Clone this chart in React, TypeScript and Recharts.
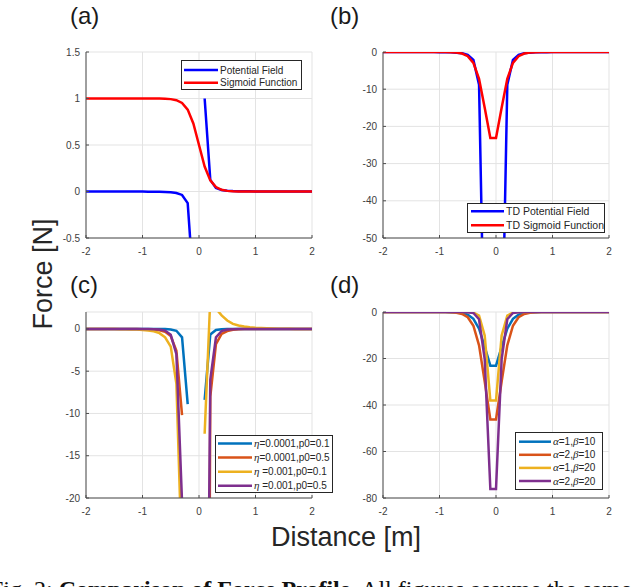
import { LineChart, Line, XAxis, YAxis, CartesianGrid, Legend } from 'recharts';

const SANS = '"Liberation Sans", Arial, Helvetica, sans-serif';
const SERIF = '"Liberation Serif", "Times New Roman", serif';
const AXIS = '#4d4d4d';
const GRID = '#e3e3e3';
const TICK_TEXT = '#404040';

// MATLAB default line colours
const C1 = '#0072BD';
const C2 = '#D95319';
const C3 = '#EDB120';
const C4 = '#7E2F8E';

// sample positions along the distance axis (m)
const DIST = [
  -2, -1.9, -1.8, -1.7, -1.6, -1.5, -1.4, -1.3, -1.2, -1.1,
  -1, -0.9, -0.8, -0.7, -0.6, -0.5, -0.4, -0.3, -0.2, -0.1,
  0, 0.1, 0.2, 0.3, 0.4, 0.5, 0.6, 0.7, 0.8, 0.9,
  1, 1.1, 1.2, 1.3, 1.4, 1.5, 1.6, 1.7, 1.8, 1.9,
  2,
];
const X_TICKS = [-2, -1, 0, 1, 2];

// (a) force
const A_POTENTIAL = [
  0, 0, 0, 0, 0, 0, 0, 0, 0, 0,
  -0.001, -0.0014, -0.002, -0.0029, -0.0046, -0.008, -0.0156, -0.037, -0.125, -1.0,
  null, 1.0, 0.125, 0.037, 0.0156, 0.008, 0.0046, 0.0029, 0.002, 0.0014,
  0.001, 0, 0, 0, 0, 0, 0, 0, 0, 0,
  0,
];
const A_SIGMOID = [
  1, 1, 1, 1, 1, 1, 1, 1, 1, 1,
  1, 0.9999, 0.9997, 0.9991, 0.9975, 0.9933, 0.982, 0.9526, 0.8808, 0.7311,
  0.5, 0.2689, 0.1192, 0.0474, 0.018, 0.0067, 0.0025, 0.0009, 0.0003, 0.0001,
  0, 0, 0, 0, 0, 0, 0, 0, 0, 0,
  0,
];

// (b) TD force
const B_TD_POTENTIAL = [
  0, 0, 0, 0, 0, 0, 0, 0, 0, -0.025,
  -0.037, -0.058, -0.097, -0.171, -0.337, -0.76, -2.14, -8.8, -87.5, null,
  null, -87.5, -8.8, -2.14, -0.76, -0.34, -0.17, -0.097, -0.058, -0.037,
  -0.025, 0, 0, 0, 0, 0, 0, 0, 0, 0,
  0,
];
const TD_SIGMOID_A1_B10 = [
  0, 0, 0, 0, 0, 0, 0, 0, 0, 0,
  0, -0.02, -0.06, -0.16, -0.42, -1.13, -2.94, -7.18, -14.97, -23.11,
  -23.11, -14.97, -7.18, -2.94, -1.13, -0.42, -0.16, -0.06, -0.02, 0,
  0, 0, 0, 0, 0, 0, 0, 0, 0, 0,
  0,
];

// (c) potential field for several eta / p0
const C_ETA4_P01 = [
  0, 0, 0, 0, 0, 0, 0, 0, 0, 0,
  0, 0, 0, 0, -0.02, -0.06, -0.22, -1.0, -8.9, null,
  null, -8.4, -0.65, -0.12, -0.04, -0.01, 0, 0, 0, 0,
  0, 0, 0, 0, 0, 0, 0, 0, 0, 0,
  0,
];
const C_ETA4_P05 = [
  0, 0, 0, 0, 0, 0, 0, 0, -0.01, -0.02,
  -0.03, -0.05, -0.09, -0.17, -0.35, -0.85, -2.6, -10.2, null, null,
  null, -150, -8, -1.8, -0.6, -0.25, -0.1, -0.05, -0.02, 0,
  0, 0, 0, 0, 0, 0, 0, 0, 0, 0,
  0,
];
const C_ETA3_P01 = [
  0, 0, 0, 0, 0, -0.02, -0.03, -0.04, -0.06, -0.08,
  -0.12, -0.18, -0.28, -0.5, -1.0, -2.1, -6.5, -28, null, null,
  null, -12.4, 3.6, 2.4, 1.6, 1.0, 0.6, 0.4, 0.28, 0.2,
  0.14, 0.1, 0.07, 0.05, 0.03, 0.02, 0.01, 0, 0, 0,
  0,
];
const C_ETA3_P05 = [
  0, 0, 0, 0, 0, 0, 0, 0, 0, 0,
  0, -0.01, -0.03, -0.07, -0.2, -0.7, -3.0, -20.5, null, null,
  null, -80, -6, -1.0, -0.25, -0.08, -0.03, 0, 0, 0,
  0, 0, 0, 0, 0, 0, 0, 0, 0, 0,
  0,
];

// (d) TD sigmoid for several alpha / beta
const D_A2_B10 = [
  0, 0, 0, 0, 0, 0, 0, 0, 0, 0,
  0, -0.04, -0.11, -0.31, -0.84, -2.26, -5.89, -14.35, -29.95, -46.21,
  -46.21, -29.95, -14.35, -5.89, -2.26, -0.84, -0.31, -0.11, -0.04, 0,
  0, 0, 0, 0, 0, 0, 0, 0, 0, 0,
  0,
];
const D_A1_B20 = [
  0, 0, 0, 0, 0, 0, 0, 0, 0, 0,
  0, 0, 0, 0, 0, -0.03, -0.21, -1.55, -10.12, -38.08,
  -38.08, -10.12, -1.55, -0.21, -0.03, 0, 0, 0, 0, 0,
  0, 0, 0, 0, 0, 0, 0, 0, 0, 0,
  0,
];
const D_A2_B20 = [
  0, 0, 0, 0, 0, 0, 0, 0, 0, 0,
  0, 0, 0, 0, 0, -0.06, -0.43, -3.1, -20.24, -76.16,
  -76.16, -20.24, -3.1, -0.43, -0.06, 0, 0, 0, 0, 0,
  0, 0, 0, 0, 0, 0, 0, 0, 0, 0,
  0,
];

type Series = { key: string; name: string; color: string; values: (number | null)[] };

const SERIES_A: Series[] = [
  { key: 'pf', name: 'Potential Field', color: '#0000ff', values: A_POTENTIAL },
  { key: 'sig', name: 'Sigmoid Function', color: '#ff0000', values: A_SIGMOID },
];
const SERIES_B: Series[] = [
  { key: 'pf', name: 'TD Potential Field', color: '#0000ff', values: B_TD_POTENTIAL },
  { key: 'sig', name: 'TD Sigmoid Function', color: '#ff0000', values: TD_SIGMOID_A1_B10 },
];
const SERIES_C: Series[] = [
  { key: 's1', name: 'η=0.0001,p0=0.1', color: C1, values: C_ETA4_P01 },
  { key: 's2', name: 'η=0.0001,p0=0.5', color: C2, values: C_ETA4_P05 },
  { key: 's3', name: 'η =0.001,p0=0.1', color: C3, values: C_ETA3_P01 },
  { key: 's4', name: 'η =0.001,p0=0.5', color: C4, values: C_ETA3_P05 },
];
const SERIES_D: Series[] = [
  { key: 's1', name: 'α=1,β=10', color: C1, values: TD_SIGMOID_A1_B10 },
  { key: 's2', name: 'α=2,β=10', color: C2, values: D_A2_B10 },
  { key: 's3', name: 'α=1,β=20', color: C3, values: D_A1_B20 },
  { key: 's4', name: 'α=2,β=20', color: C4, values: D_A2_B20 },
];

const LINE_W = 2.5;

function toRows(series: Series[]) {
  return DIST.map((x, i) => {
    const row: Record<string, number | null> = { x };
    series.forEach((s) => (row[s.key] = s.values[i]));
    return row;
  });
}

// greek letters are set in an italic serif, like TeX
function greekify(label: string) {
  return label
    .split(/([\u0370-\u03ff])/)
    .filter(Boolean)
    .map((part, i) =>
      /[\u0370-\u03ff]/.test(part) ? (
        <tspan key={i} fontFamily={SERIF} fontStyle="italic" fontSize="1.1em">
          {part}
        </tspan>
      ) : (
        <tspan key={i}>{part}</tspan>
      )
    );
}

type LegendBox = {
  left: number;
  top: number;
  w: number;
  h: number;
  first: number;
  step: number;
  line: [number, number];
  textX: number;
  fontSize: number;
};

// boxed legend in plot order (Recharts would sort its payload by name)
function boxLegend(box: LegendBox, series: Series[]) {
  return () => (
    <svg width={box.w} height={box.h} style={{ display: 'block' }}>
      <rect x={0.5} y={0.5} width={box.w - 1} height={box.h - 1} fill="#fff" stroke="#262626" />
      {series.map((s, i) => {
        const y = box.first + i * box.step;
        return (
          <g key={s.key}>
            <line x1={box.line[0]} x2={box.line[1]} y1={y} y2={y} stroke={s.color} strokeWidth={LINE_W} />
            <text x={box.textX} y={y} dy="0.35em" fontSize={box.fontSize} fill="#262626" fontFamily={SANS}>
              {greekify(s.name)}
            </text>
          </g>
        );
      })}
    </svg>
  );
}

const PLOT_W = 226;

function ForcePanel(props: {
  series: Series[];
  yDomain: [number, number];
  yTicks: number[];
  yAxisWidth: number;
  width: number;
  legend: LegendBox;
}) {
  const { series, yDomain, yTicks, yAxisWidth, width, legend } = props;
  const tick = { fill: TICK_TEXT, fontSize: 10, fontFamily: SANS };
  return (
    <LineChart
      width={width}
      height={270}
      data={toRows(series)}
      margin={{ top: 52, right: width - yAxisWidth - PLOT_W, bottom: 2, left: 0 }}
    >
      <CartesianGrid stroke={GRID} />
      <XAxis
        type="number"
        dataKey="x"
        domain={[-2, 2]}
        ticks={X_TICKS}
        interval={0}
        height={30}
        tickSize={-3}
        tickMargin={13}
        axisLine={{ stroke: AXIS }}
        tickLine={{ stroke: AXIS }}
        tick={tick}
      />
      <YAxis
        type="number"
        domain={yDomain}
        ticks={yTicks}
        interval={0}
        allowDataOverflow
        width={yAxisWidth}
        tickSize={-3}
        tickMargin={9}
        axisLine={{ stroke: AXIS }}
        tickLine={{ stroke: AXIS }}
        tick={tick}
      />
      {series.map((s) => (
        <Line
          key={s.key}
          type="linear"
          dataKey={s.key}
          name={s.name}
          stroke={s.color}
          strokeWidth={LINE_W}
          dot={false}
          activeDot={false}
          connectNulls={false}
          isAnimationActive={false}
        />
      ))}
      <Legend
        layout="vertical"
        align="center"
        verticalAlign="middle"
        wrapperStyle={{ left: legend.left, top: legend.top, width: legend.w, height: legend.h }}
        content={boxLegend(legend, series)}
      />
    </LineChart>
  );
}

export default function App() {
  return (
    <div
      style={{
        position: 'absolute',
        left: 0,
        top: 0,
        width: 640,
        height: 587,
        overflow: 'hidden',
        background: '#fff',
      }}
    >
      <svg width={640} height={587} style={{ position: 'absolute', left: 0, top: 0 }}>
        <g fontFamily={SANS} fontSize={24} fill="#1a1a1a">
          <text x={70} y={23.5}>(a)</text>
          <text x={330} y={23.5}>(b)</text>
          <text x={70} y={293}>(c)</text>
          <text x={330} y={293}>(d)</text>
        </g>
        <text
          transform="translate(52,274) rotate(-90)"
          textAnchor="middle"
          fontFamily={SANS}
          fontSize={27}
          fill="#262626"
        >
          Force [N]
        </text>
        <text x={346} y={546} textAnchor="middle" fontFamily={SANS} fontSize={27} fill="#262626">
          Distance [m]
        </text>
        <text x={-10} y={597} fontFamily={SERIF} fontSize={24} fill="#111">
          Fig. 2: <tspan fontWeight="bold">Comparison of Force Profile.</tspan> All figures assume the same
        </text>
      </svg>

      <div style={{ position: 'absolute', left: 0, top: 0 }}>
        <ForcePanel
          series={SERIES_A}
          yDomain={[-0.5, 1.5]}
          yTicks={[-0.5, 0, 0.5, 1, 1.5]}
          yAxisWidth={86}
          width={340}
          legend={{ left: 181, top: 60, w: 121, h: 30, first: 10, step: 12.7, line: [3, 37], textX: 39, fontSize: 10 }}
        />
      </div>
      <div style={{ position: 'absolute', left: 320, top: 0 }}>
        <ForcePanel
          series={SERIES_B}
          yDomain={[-50, 0]}
          yTicks={[-50, -40, -30, -20, -10, 0]}
          yAxisWidth={63}
          width={320}
          legend={{ left: 147, top: 203, w: 138, h: 30, first: 8.3, step: 14, line: [4, 37], textX: 39, fontSize: 10.5 }}
        />
      </div>
      <div style={{ position: 'absolute', left: 0, top: 260 }}>
        <ForcePanel
          series={SERIES_C}
          yDomain={[-20, 2]}
          yTicks={[-20, -15, -10, -5, 0]}
          yAxisWidth={86}
          width={340}
          legend={{ left: 215, top: 175, w: 118, h: 58, first: 8.5, step: 14.1, line: [3, 37], textX: 39, fontSize: 10 }}
        />
      </div>
      <div style={{ position: 'absolute', left: 320, top: 260 }}>
        <ForcePanel
          series={SERIES_D}
          yDomain={[-80, 0]}
          yTicks={[-80, -60, -40, -20, 0]}
          yAxisWidth={63}
          width={320}
          legend={{ left: 195, top: 172, w: 88, h: 58, first: 9.7, step: 13.1, line: [4, 36], textX: 38, fontSize: 10 }}
        />
      </div>
    </div>
  );
}
